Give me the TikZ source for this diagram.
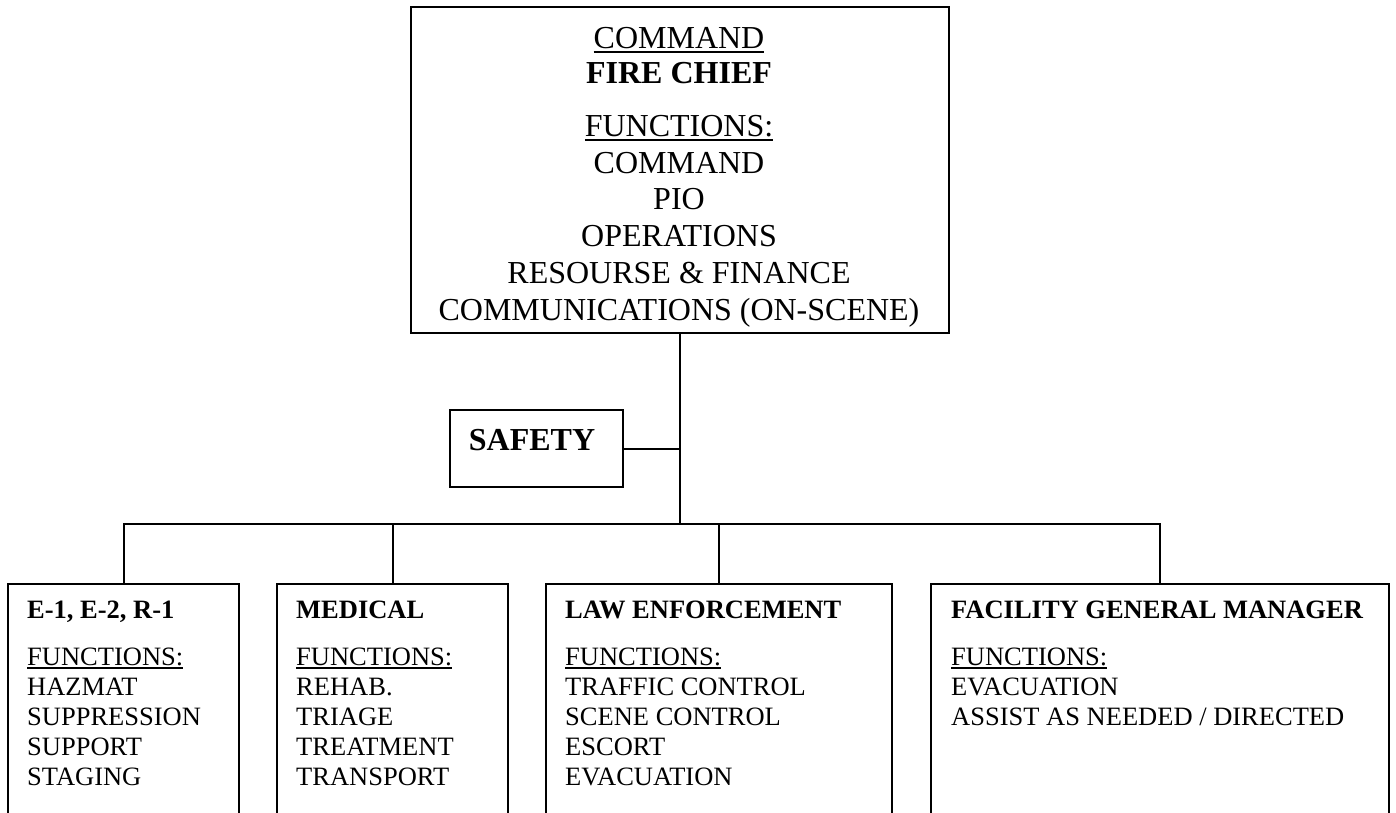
\documentclass[tikz,border=0pt]{standalone}
\usepackage{fontspec}
\setmainfont{Liberation Serif}
% underline with a rule that scales with the font
\newcommand\ulx[1]{\setbox0\hbox{#1}\rlap{\rule[-0.15em]{\wd0}{0.06em}}\box0}
\begin{document}
\begin{tikzpicture}[x=1pt,y=-1pt,
  orgbox/.style={draw, line width=2.2pt, inner sep=0pt, anchor=north west},
  link/.style={line width=2.2pt},
  bigtxt/.style={font=\fontsize{32}{36}\selectfont, anchor=base, inner sep=0pt},
  smalltxt/.style={font=\fontsize{26.5}{30}\selectfont, anchor=base west, inner sep=0pt}]

\useasboundingbox (0,0) rectangle (1396,812);
\clip (0,0) rectangle (1396,812);

% command box
\node[orgbox, minimum width=538pt, minimum height=326pt] (cmd) at (410,6) {};
\node[bigtxt] (c1) at (679,48)  {\ulx{COMMAND}};
\node[bigtxt] (c2) at (679,83)  {\bfseries FIRE CHIEF};
\node[bigtxt] (c3) at (679,136) {\ulx{FUNCTIONS:}};
\node[bigtxt] (c4) at (679,173) {COMMAND};
\node[bigtxt] (c5) at (679,209) {PIO};
\node[bigtxt] (c6) at (679,246) {OPERATIONS};
\node[bigtxt] (c7) at (679,283) {RESOURSE \& FINANCE};
\node[bigtxt] (c8) at (679,320) {COMMUNICATIONS (ON-SCENE)};

% safety officer
\node[orgbox, minimum width=173pt, minimum height=77pt] (safety) at (449,409) {};
\node[bigtxt] (safetytxt) at (532,450) {\bfseries SAFETY};

% division boxes (run past the lower edge)
\node[orgbox, minimum width=231pt, minimum height=260pt] (engines)  at (7,583) {};
\node[orgbox, minimum width=231pt, minimum height=260pt] (medical)  at (276,583) {};
\node[orgbox, minimum width=346pt, minimum height=260pt] (lawenf)   at (545,583) {};
\node[orgbox, minimum width=458pt, minimum height=260pt] (facility) at (930,583) {};

% division texts
\foreach \x/\nm/\head/\items in {
  27/eng/{E-1, E-2, R-1}/{HAZMAT,SUPPRESSION,SUPPORT,STAGING},
  296/med/{MEDICAL}/{REHAB.,TRIAGE,TREATMENT,TRANSPORT},
  565/law/{LAW ENFORCEMENT}/{TRAFFIC CONTROL,SCENE CONTROL,ESCORT,EVACUATION},
  951/fac/{FACILITY GENERAL MANAGER}/{EVACUATION,ASSIST AS NEEDED / DIRECTED}} {
  \node[smalltxt] (\nm-head) at (\x,618) {\bfseries \head};
  \node[smalltxt] (\nm-fn) at (\x,665) {\ulx{FUNCTIONS:}};
  \foreach \it [count=\i] in \items {
    \node[smalltxt] (\nm-item\i) at (\x,664.7+30.3*\i) {\it};
  }
}

% connectors
\coordinate (bus) at (cmd.south |- 0,524);
\draw[link] (cmd.south) -- (bus);
\draw[link] (safety.east) -- (safety.east -| cmd.south);
\draw[link] (engines.north) |- (facility.north |- bus) -- (facility.north);
\draw[link] (medical.north) -- (medical.north |- bus);
\draw[link] (lawenf.north) -- (lawenf.north |- bus);
\end{tikzpicture}
\end{document}
